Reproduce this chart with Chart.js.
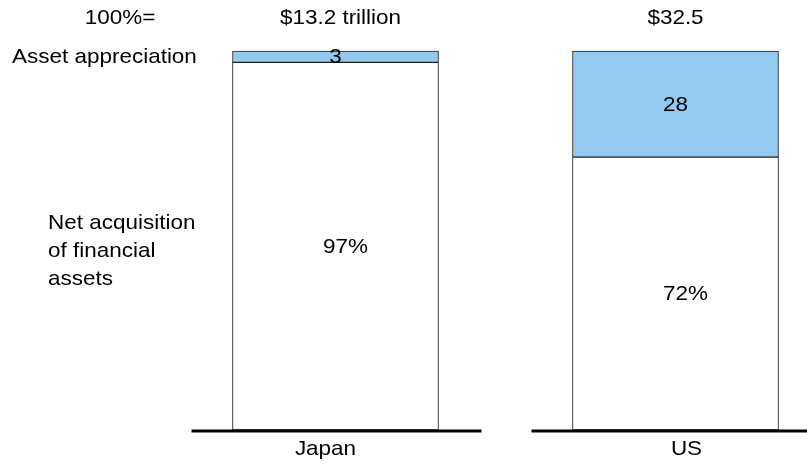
<!DOCTYPE html>
<html>
<head>
<meta charset="utf-8">
<script src="https://cdn.jsdelivr.net/npm/chart.js@4"></script>
<style>
html,body{margin:0;padding:0;background:#fff;}
canvas{display:block;}
</style>
</head>
<body>
<canvas id="c" width="807" height="465"></canvas>
<script>
const categories = ['Japan', 'US'];
const netAcquisition = [97, 72];
const assetAppreciation = [3, 28];
const totals = ['$13.2 trillion', '$32.5'];
const totalsPrefix = '100%=';
const seriesNames = ['Net acquisition\nof financial\nassets', 'Asset appreciation'];

const FONT = '"Liberation Sans", Arial, sans-serif';
const FS = 21;

function drawText(ctx, text, x, y, align, sx) {
  ctx.save();
  ctx.translate(x, y);
  ctx.scale(sx || 1, 1);
  ctx.textAlign = align;
  ctx.textBaseline = 'middle';
  ctx.fillText(text, 0, 0);
  ctx.restore();
}

const overlay = {
  id: 'overlay',
  afterDatasetsDraw(chart) {
    const ctx = chart.ctx;
    const xs = chart.scales.x;
    const m0 = chart.getDatasetMeta(0);
    const m1 = chart.getDatasetMeta(1);
    ctx.save();
    ctx.fillStyle = '#000';
    ctx.font = FS + 'px ' + FONT;
    const SX = 1.07;
    categories.forEach((cat, i) => {
      const b0 = m0.data[i], b1 = m1.data[i];
      const cx = xs.getPixelForValue(i);
      // white segment label: number centered, % appended
      const num = String(netAcquisition[i]);
      const nw = ctx.measureText(num).width * SX;
      drawText(ctx, num + '%', cx - nw / 2, (b0.y + b0.base) / 2 + 1, 'left', SX);
      // blue segment label
      drawText(ctx, String(assetAppreciation[i]), cx, (b1.y + b1.base) / 2 + 1, 'center', SX);
      // totals on top
      drawText(ctx, totals[i], cx + (i === 0 ? 5 : 0), 18, 'center', SX);
      // baseline
      ctx.fillRect(cx - 144, chart.chartArea.bottom - 0.5, 290, 3);
      // category label
      drawText(ctx, cat, cx + (i === 0 ? -10 : 11), 449, 'center', SX);
    });
    // header + series labels
    drawText(ctx, totalsPrefix, 120, 18, 'center', SX);
    const jb1 = m1.data[0], jb0 = m0.data[0];
    drawText(ctx, seriesNames[1], 12, (jb1.y + jb1.base) / 2 + 1, 'left', SX);
    const lines = seriesNames[0].split('\n');
    const mid = (jb0.y + jb0.base) / 2 + 5;
    lines.forEach((ln, k) => {
      drawText(ctx, ln, 48, mid + (k - (lines.length - 1) / 2) * 28, 'left', SX);
    });
    ctx.restore();
  }
};

new Chart(document.getElementById('c'), {
  type: 'bar',
  data: {
    labels: categories,
    datasets: [
      { label: 'Net acquisition of financial assets', data: netAcquisition, backgroundColor: '#ffffff', borderColor: '#222222', borderWidth: 1, borderSkipped: false, clip: false },
      { label: 'Asset appreciation', data: assetAppreciation, backgroundColor: '#93C9EE', borderColor: '#222222', borderWidth: 1, borderSkipped: false, clip: false }
    ]
  },
  options: {
    responsive: false,
    animation: false,
    events: [],
    barThickness: 206,
    layout: { padding: { left: 335.5, right: 131.5, top: 51, bottom: 35 } },
    plugins: { legend: { display: false }, tooltip: { enabled: false } },
    scales: {
      x: { display: false, stacked: true, offset: false },
      y: { display: false, stacked: true, min: 0, max: 100 }
    }
  },
  plugins: [overlay]
});
</script>
</body>
</html>
